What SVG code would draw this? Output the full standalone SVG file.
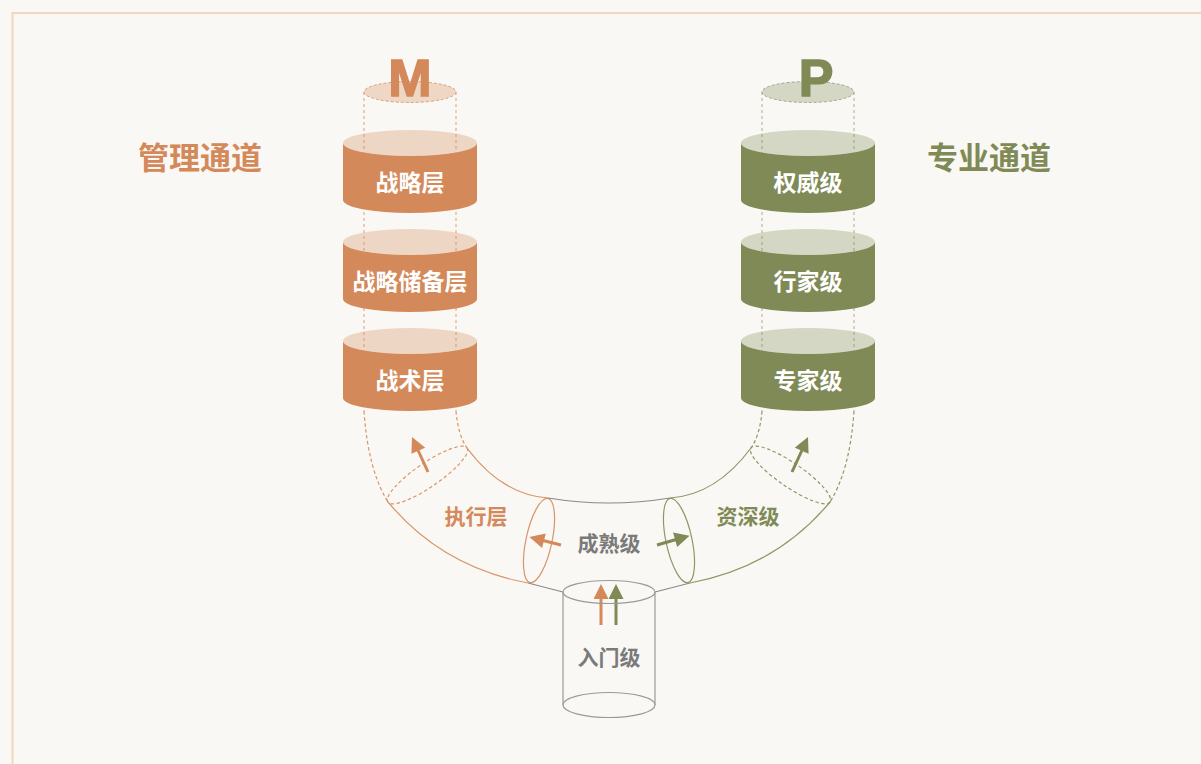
<svg xmlns="http://www.w3.org/2000/svg" width="1201" height="764" viewBox="0 0 1201 764">
<defs>
<style>
.cjk{font-family:"Noto Sans CJK SC","Noto Sans",sans-serif;font-weight:bold;text-anchor:middle}
.wt{fill:#ffffff;font-size:23px}
.or{fill:#d4895a}
.gr{fill:#7f8a56}
.gy{fill:#7a7a7a}
.body-o{fill:#d4895a}
.top-o{fill:#d4895a;fill-opacity:0.3}
.body-g{fill:#7f8a56}
.top-g{fill:#7f8a56;fill-opacity:0.3}
.dl-o{fill:none;stroke:#dba07a;stroke-width:1;stroke-dasharray:3 3}
.dl-g{fill:none;stroke:#a9ae8c;stroke-width:1;stroke-dasharray:3 3}
.pd-o{fill:none;stroke:#d9956a;stroke-width:1.2;stroke-dasharray:3.5 2.5}
.pd-g{fill:none;stroke:#8f9866;stroke-width:1.2;stroke-dasharray:3.5 2.5}
.ps-o{fill:none;stroke:#d9956a;stroke-width:1.2}
.ps-g{fill:none;stroke:#8f9866;stroke-width:1.2}
.ps-y{fill:none;stroke:#8a8a8a;stroke-width:1.2}
.ao{stroke:#d4895a;stroke-width:3;fill:none}
.ag{stroke:#7f8a56;stroke-width:3;fill:none}
</style>
<marker id="mo" viewBox="0 0 10 10" refX="2" refY="5" markerWidth="5.5" markerHeight="5" orient="auto" markerUnits="strokeWidth"><path d="M0,0 L10,5 L0,10 Z" fill="#d4895a"/></marker>
<marker id="mg" viewBox="0 0 10 10" refX="2" refY="5" markerWidth="5.5" markerHeight="5" orient="auto" markerUnits="strokeWidth"><path d="M0,0 L10,5 L0,10 Z" fill="#7f8a56"/></marker>
</defs>
<rect x="0" y="0" width="1201" height="764" fill="#faf8f4"/>
<rect x="12.5" y="13" width="1300" height="900" fill="none" stroke="#f2d7ba" stroke-width="2"/>

<!-- titles -->
<text class="cjk or" x="200" y="169" font-size="31">管理通道</text>
<text class="cjk gr" x="989" y="169" font-size="31">专业通道</text>

<!-- M column -->
<g id="col-m">
<line class="dl-o" x1="364" y1="92" x2="364" y2="411"/>
<line class="dl-o" x1="456" y1="92" x2="456" y2="411"/>
<ellipse cx="410" cy="92" rx="46" ry="10.5" fill="#efd7c6" stroke="#dba07a" stroke-width="1" stroke-dasharray="3 2"/>
<text x="410" y="96" font-family="Liberation Sans, Arial, sans-serif" font-weight="bold" font-size="52" text-anchor="middle" fill="#d4895a" stroke="#d4895a" stroke-width="1.5">M</text>
</g>
<g id="node-zhanluece">
<path class="body-o" d="M343,143 A67,13 0 0 0 477,143 L477,200 A67,13 0 0 1 343,200 Z"/>
<ellipse class="top-o" cx="410" cy="143" rx="67" ry="13"/>
<text class="cjk wt" x="410" y="191">战略层</text>
</g>
<g id="node-chubei">
<path class="body-o" d="M343,242 A67,13 0 0 0 477,242 L477,299 A67,13 0 0 1 343,299 Z"/>
<ellipse class="top-o" cx="410" cy="242" rx="67" ry="13"/>
<text class="cjk wt" x="410" y="290">战略储备层</text>
</g>
<g id="node-zhanshu">
<path class="body-o" d="M343,341 A67,13 0 0 0 477,341 L477,398 A67,13 0 0 1 343,398 Z"/>
<ellipse class="top-o" cx="410" cy="341" rx="67" ry="13"/>
<text class="cjk wt" x="410" y="389">战术层</text>
</g>

<!-- P column -->
<g id="col-p">
<line class="dl-g" x1="762" y1="92" x2="762" y2="411"/>
<line class="dl-g" x1="854" y1="92" x2="854" y2="411"/>
<ellipse cx="808" cy="92" rx="46" ry="10.5" fill="#d5d7c5" stroke="#a3a886" stroke-width="1" stroke-dasharray="3 2"/>
<text x="816" y="96" font-family="Liberation Sans, Arial, sans-serif" font-weight="bold" font-size="52" text-anchor="middle" fill="#7f8a56" stroke="#7f8a56" stroke-width="1.5">P</text>
</g>
<g id="node-quanwei">
<path class="body-g" d="M741,143 A67,13 0 0 0 875,143 L875,200 A67,13 0 0 1 741,200 Z"/>
<ellipse class="top-g" cx="808" cy="143" rx="67" ry="13"/>
<text class="cjk wt" x="808" y="191">权威级</text>
</g>
<g id="node-hangjia">
<path class="body-g" d="M741,242 A67,13 0 0 0 875,242 L875,299 A67,13 0 0 1 741,299 Z"/>
<ellipse class="top-g" cx="808" cy="242" rx="67" ry="13"/>
<text class="cjk wt" x="808" y="290">行家级</text>
</g>
<g id="node-zhuanjia">
<path class="body-g" d="M741,341 A67,13 0 0 0 875,341 L875,398 A67,13 0 0 1 741,398 Z"/>
<ellipse class="top-g" cx="808" cy="341" rx="67" ry="13"/>
<text class="cjk wt" x="808" y="389">专家级</text>
</g>

<!-- U pipe -->
<g id="connectors">
<path class="pd-o" d="M364,411 Q368,470 388,502"/>
<path class="pd-o" d="M456,411 Q458,435 467,448"/>
<ellipse class="pd-o" cx="427.5" cy="475" rx="48" ry="12" transform="rotate(-34.4 427.5 475)"/>
<path class="ps-o" d="M388,502 Q442,567 528,583"/>
<path class="ps-o" d="M467,448 Q502,495 548,498"/>
<ellipse class="ps-o" cx="539" cy="540.5" rx="13" ry="43" transform="rotate(12 539 540.5)"/>

<path class="pd-g" d="M854,411 Q850,470 830,502"/>
<path class="pd-g" d="M762,411 Q760,435 751,448"/>
<ellipse class="pd-g" cx="790.5" cy="475" rx="48" ry="12" transform="rotate(34.4 790.5 475)"/>
<path class="ps-g" d="M830,502 Q776,567 690,583"/>
<path class="ps-g" d="M751,448 Q716,495 670,498"/>
<ellipse class="ps-g" cx="679" cy="540.5" rx="13" ry="43" transform="rotate(-12 679 540.5)"/>

<path class="ps-y" d="M548,498 Q609,508 670,498"/>
<path class="ps-y" d="M528,583 L563,592"/>
<path class="ps-y" d="M690,583 L655,592"/>

<line class="ao" x1="428" y1="472" x2="417" y2="448" marker-end="url(#mo)"/>
<line class="ag" x1="792" y1="472" x2="803" y2="448" marker-end="url(#mg)"/>
<line class="ao" x1="561" y1="545" x2="541" y2="540" marker-end="url(#mo)"/>
<line class="ag" x1="657" y1="545" x2="678" y2="539" marker-end="url(#mg)"/>
<line class="ao" x1="601" y1="625" x2="601" y2="596" marker-end="url(#mo)"/>
<line class="ag" x1="616" y1="625" x2="616" y2="596" marker-end="url(#mg)"/>
</g>

<text class="cjk or" x="476" y="524" font-size="21">执行层</text>
<text class="cjk gy" x="609" y="551" font-size="21">成熟级</text>
<text class="cjk gr" x="748" y="524" font-size="21">资深级</text>

<!-- entry cylinder -->
<g id="node-rumen">
<path d="M563,592 L563,705 A46,12.5 0 0 0 655,705 L655,592" fill="none" stroke="#9a9a9a" stroke-width="1.2"/>
<ellipse cx="609" cy="592" rx="46" ry="11.5" fill="none" stroke="#9a9a9a" stroke-width="1.2"/>
<path d="M563,705 A46,12.5 0 0 1 655,705" fill="none" stroke="#9a9a9a" stroke-width="1.2"/>
<text class="cjk gy" x="609" y="665" font-size="21">入门级</text>
</g>
</svg>
